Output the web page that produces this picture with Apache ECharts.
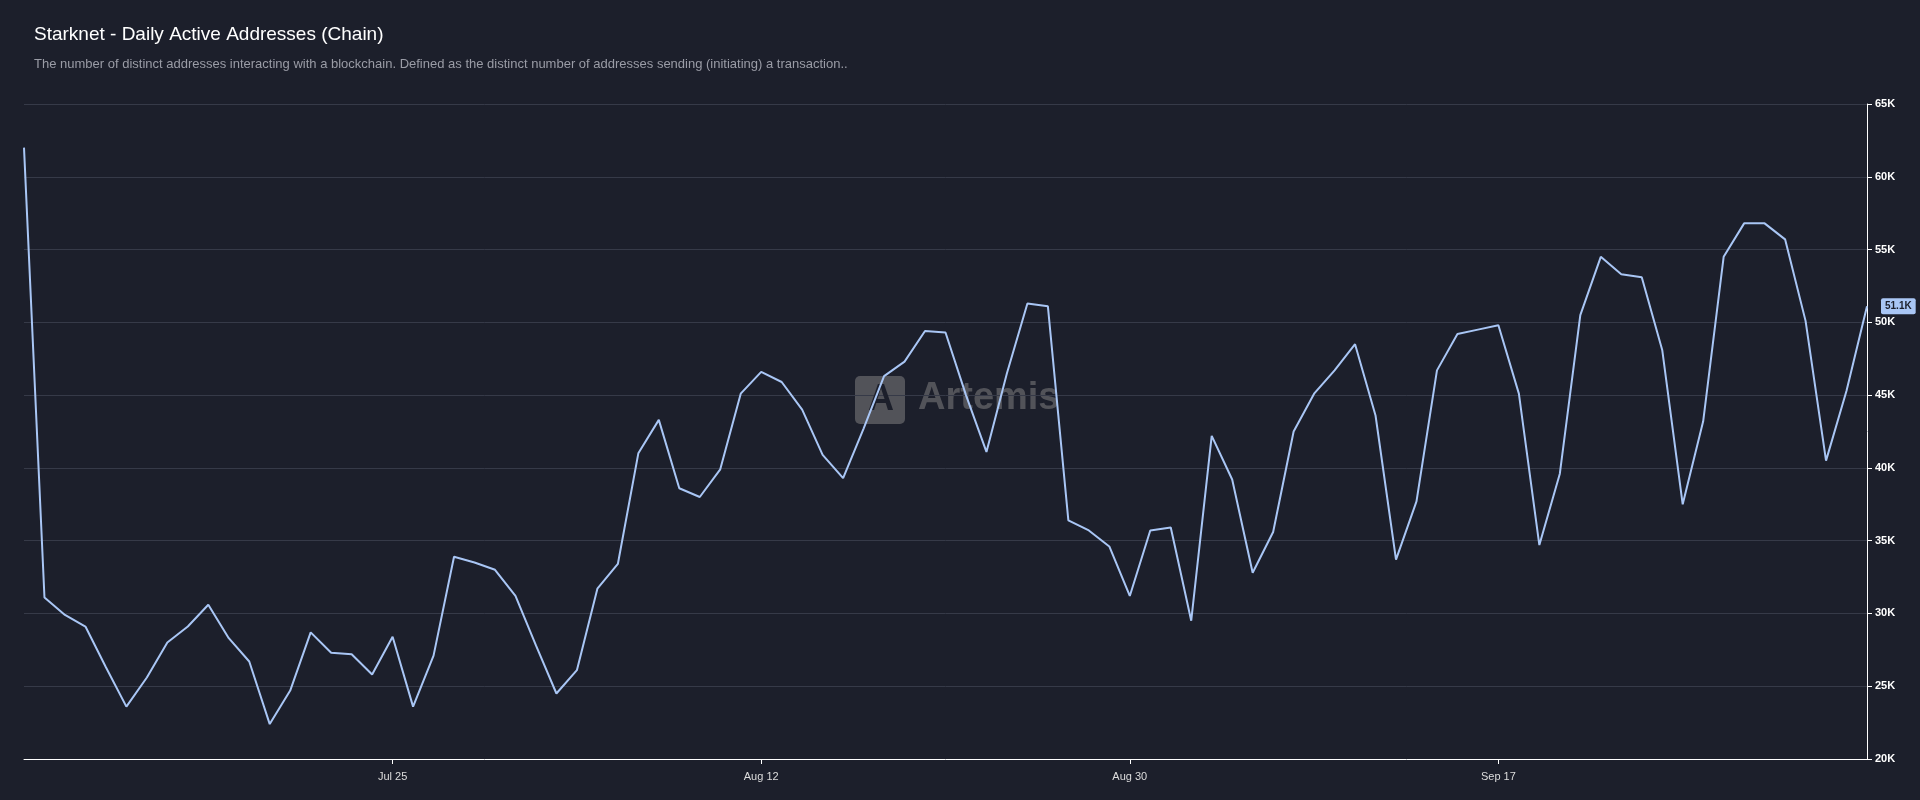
<!DOCTYPE html>
<html><head><meta charset="utf-8">
<script src="https://cdn.jsdelivr.net/npm/echarts@6/dist/echarts.min.js"></script>
<style>html,body{margin:0;background:#1c1f2b}#c{width:1920px;height:800px}</style>
</head><body><div id="c"></div>
<script>
const startDate = '2024-07-07';
const values = [62.0,31.1,29.9,29.1,26.3,23.6,25.6,28.0,29.1,30.6,28.3,26.7,22.4,24.7,28.7,27.3,27.2,25.8,28.4,23.6,27.1,33.9,33.5,33.0,31.2,27.8,24.5,26.1,31.7,33.4,41.0,43.3,38.6,38.0,39.9,45.1,46.6,45.9,44.0,40.9,39.3,42.7,46.3,47.3,49.4,49.3,45.0,41.1,46.5,51.3,51.1,36.4,35.7,34.6,31.2,35.7,35.9,29.5,42.2,39.2,32.8,35.6,42.5,45.1,46.7,48.5,43.6,33.7,37.7,46.7,49.2,49.5,49.8,45.1,34.7,39.6,50.5,54.5,53.3,53.1,48.1,37.5,43.2,54.5,56.8,56.8,55.7,50.1,40.5,45.3,51.1].map(v=>v*1000);
const months = ['Jan','Feb','Mar','Apr','May','Jun','Jul','Aug','Sep','Oct','Nov','Dec'];
const dates = values.map((_,i)=>{const d=new Date(startDate+'T00:00:00Z');d.setUTCDate(d.getUTCDate()+i);return months[d.getUTCMonth()]+' '+d.getUTCDate();});
const xTickLabels = ['Jul 25','Aug 12','Aug 30','Sep 17'];
const yTicks = {min:20000,max:65000,interval:5000};
const showTick = (i)=>xTickLabels.includes(dates[i]);
const chart = echarts.init(document.getElementById('c'));
chart.setOption({
  backgroundColor:'#1c1f2b',
  textStyle:{fontFamily:'Liberation Sans, Arial, sans-serif'},
  title:{text:'Starknet - Daily Active Addresses (Chain)',left:29,top:20,
    textStyle:{color:'#fff',fontSize:19,fontWeight:'normal'},
    subtext:'The number of distinct addresses interacting with a blockchain. Defined as the distinct number of addresses sending (initiating) a transaction..',
    subtextStyle:{color:'#9a9ca6',fontSize:13},itemGap:14},
  graphic:[
    {type:'rect',left:855,top:376,shape:{width:50,height:48,r:5},style:{fill:'rgba(105,105,110,0.7)'},z:0},
    {type:'text',left:868,top:382,style:{text:'A',fill:'#1c1f2b',font:'bold 36px Liberation Sans'},z:1},
    {type:'text',left:918,top:380,style:{text:'Artemis',fill:'rgba(105,105,110,0.7)',font:'bold 38px Liberation Sans'},z:0}
  ],
  grid:{left:24,right:53,top:104,bottom:41},
  xAxis:{type:'category',data:dates,boundaryGap:false,
    axisLine:{lineStyle:{color:'#ffffff'}},
    axisTick:{show:true,alignWithLabel:true,interval:showTick,lineStyle:{color:'#fff'}},
    axisLabel:{color:'#ddd',fontSize:11,interval:showTick,margin:12},
    splitLine:{show:false}},
  yAxis:{type:'value',position:'right',min:yTicks.min,max:yTicks.max,interval:yTicks.interval,
    axisLine:{show:true,lineStyle:{color:'#fff'}},
    axisTick:{show:true,length:5,lineStyle:{color:'#fff'}},
    axisLabel:{color:'#fff',fontSize:11,fontWeight:'bold',formatter:v=>(v/1000)+'K'},
    splitLine:{lineStyle:{color:'#363a48'}}},
  series:[{type:'line',data:values,showSymbol:false,smooth:false,
    lineStyle:{color:'#a9c6f5',width:2},
    endLabel:{show:true,formatter:p=>(p.value/1000).toFixed(1)+'K',color:'#1c1f2b',fontSize:10,fontWeight:'bold',
      backgroundColor:'#a9c6f5',padding:[3,4],borderRadius:2,offset:[6,0]},
    z:2}]
});
</script></body></html>
